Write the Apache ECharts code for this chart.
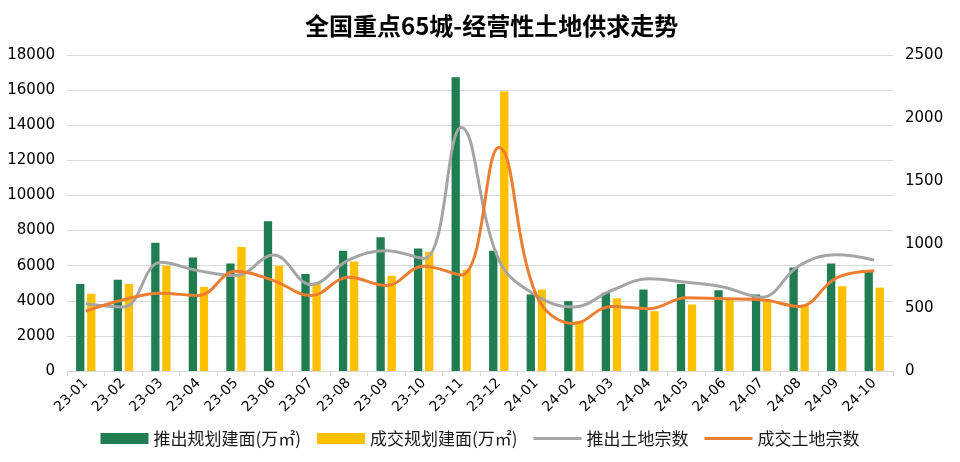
<!DOCTYPE html>
<html>
<head>
<meta charset="utf-8">
<script src="https://cdn.jsdelivr.net/npm/echarts@6/dist/echarts.min.js"></script>
<style>
html,body{margin:0;padding:0;background:#fff;}
#chart{width:960px;height:462px;}
</style>
</head>
<body>
<div id="chart"></div>
<script>
const categories = ['23-01','23-02','23-03','23-04','23-05','23-06','23-07','23-08','23-09','23-10','23-11','23-12',
  '24-01','24-02','24-03','24-04','24-05','24-06','24-07','24-08','24-09','24-10'];
const launchArea = [4950, 5200, 7300, 6470, 6130, 8530, 5530, 6850, 7620, 6980, 16730, 6850, 4360, 3980, 4460, 4640, 4960, 4600, 4360, 5900, 6130, 5720];
const dealArea = [4400, 4950, 6000, 4790, 7070, 6000, 4980, 6240, 5430, 6790, 5770, 15940, 4640, 2850, 4140, 3410, 3790, 4050, 4000, 3730, 4830, 4750];
const launchCount = [532, 506, 860, 794, 755, 917, 684, 878, 951, 890, 1926, 880, 597, 506, 637, 729, 702, 663, 584, 833, 920, 878];
const dealCount = [474, 564, 616, 597, 789, 715, 597, 741, 676, 828, 760, 1769, 600, 375, 511, 493, 579, 571, 564, 511, 737, 794];
const leftTicks = {min: 0, max: 18000, interval: 2000};
const rightTicks = {min: 0, max: 2500, interval: 500};

const chart = echarts.init(document.getElementById('chart'), null, {renderer: 'canvas'});
const numFont = 'DejaVu Sans';
const cjkFont = '"Noto Sans CJK SC", sans-serif';
const lineIcon = 'path://M0,0L48,0L48,3.2L0,3.2Z';
chart.setOption({
  animation: false,
  backgroundColor: '#fff',
  title: {
    text: '全国重点65城-经营性土地供求走势',
    left: 300,
    top: 9,
    textStyle: {fontFamily: cjkFont, fontSize: 24, fontWeight: 'bold', color: '#000'}
  },
  legend: {
    bottom: 10,
    left: 'center',
    itemWidth: 48,
    itemHeight: 11,
    itemGap: 16,
    textStyle: {fontFamily: cjkFont, fontSize: 17, color: '#1a1a1a'},
    data: [
      {name: '推出规划建面(万㎡)', icon: 'rect'},
      {name: '成交规划建面(万㎡)', icon: 'rect'},
      {name: '推出土地宗数', icon: lineIcon},
      {name: '成交土地宗数', icon: lineIcon}
    ]
  },
  grid: {left: 67, right: 67, top: 55, bottom: 91},
  xAxis: {
    type: 'category',
    data: categories,
    boundaryGap: true,
    axisLine: {lineStyle: {color: '#d9d9d9', width: 1}},
    axisTick: {show: true, length: 5, lineStyle: {color: '#d9d9d9'}},
    axisLabel: {rotate: 45, interval: 0, fontFamily: numFont, fontSize: 14, color: '#000', margin: 10}
  },
  yAxis: [
    {
      type: 'value', min: leftTicks.min, max: leftTicks.max, interval: leftTicks.interval,
      axisLine: {show: false}, axisTick: {show: false},
      splitLine: {lineStyle: {color: '#d9d9d9', width: 1}},
      axisLabel: {fontFamily: numFont, fontSize: 15, color: '#000', margin: 12, formatter: v => String(v)}
    },
    {
      type: 'value', min: rightTicks.min, max: rightTicks.max, interval: rightTicks.interval,
      axisLine: {show: false}, axisTick: {show: false},
      splitLine: {show: false},
      axisLabel: {fontFamily: numFont, fontSize: 15, color: '#000', margin: 12, formatter: v => String(v)}
    }
  ],
  series: [
    {name: '推出规划建面(万㎡)', type: 'bar', data: launchArea, barWidth: 8.3, barGap: '33%',
      itemStyle: {color: '#1F7D51'}},
    {name: '成交规划建面(万㎡)', type: 'bar', data: dealArea, barWidth: 8.3, barGap: '33%',
      itemStyle: {color: '#FFC000'}},
    {name: '推出土地宗数', type: 'line', yAxisIndex: 1, data: launchCount, smooth: 0.4, symbol: 'none',
      lineStyle: {color: '#A5A5A5', width: 3}, itemStyle: {color: '#A5A5A5'}, z: 5},
    {name: '成交土地宗数', type: 'line', yAxisIndex: 1, data: dealCount, smooth: 0.4, symbol: 'none',
      lineStyle: {color: '#ED7D31', width: 3}, itemStyle: {color: '#ED7D31'}, z: 6}
  ]
});
</script>
</body>
</html>
